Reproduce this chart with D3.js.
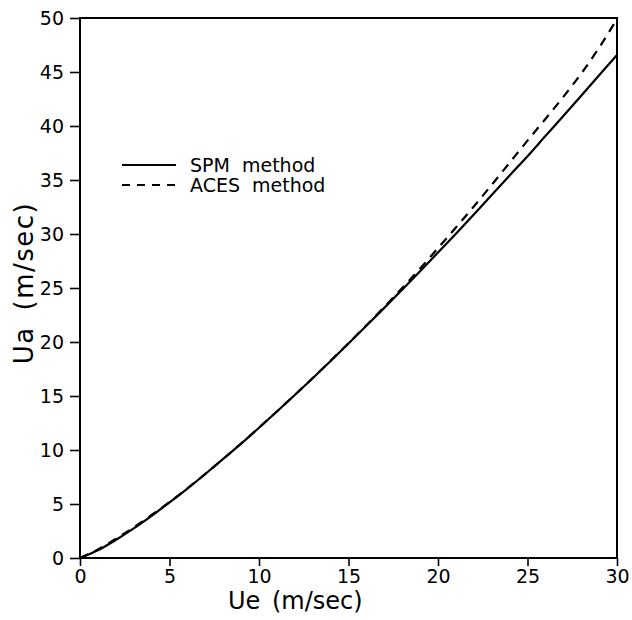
<!DOCTYPE html>
<html>
<head>
<meta charset="utf-8">
<script src="https://cdn.jsdelivr.net/npm/d3@7"></script>
<style>
  html, body { margin: 0; padding: 0; background: #fff; }
  svg { display: block; }
  text { font-family: "DejaVu Sans", sans-serif; fill: #000; }
</style>
</head>
<body>
<svg id="chart" width="632" height="620"></svg>
<script>
// Data
const ue = [0,1,2,3,4,5,6,7,8,9,10,11,12,13,14,15,16,17,18,19,20,21,22,23,24,25,26,27,28,29,30];
const spm = [0,0.71,1.67,2.74,3.91,5.14,6.43,7.78,9.17,10.59,12.06,13.56,15.09,16.65,18.24,19.86,21.50,23.16,24.85,26.55,28.29,30.03,31.81,33.60,35.41,37.20,39.07,40.92,42.80,44.69,46.58];
const aces = [0,0.80,1.78,2.84,3.98,5.18,6.45,7.79,9.18,10.60,12.07,13.57,15.10,16.66,18.26,19.89,21.55,23.25,25.00,26.80,28.70,30.60,32.55,34.55,36.60,38.65,40.65,42.70,44.85,47.25,49.90];
const xTicks = [0,5,10,15,20,25,30];
const yTicks = [0,5,10,15,20,25,30,35,40,45,50];
const legendLabels = ["SPM method", "ACES method"];

const svg = d3.select("#chart");
const mLeft = 80, mRight = 617, mTop = 18, mBottom = 558;

const x = d3.scaleLinear().domain([0, 30]).range([mLeft, mRight]);
const y = d3.scaleLinear().domain([0, 50]).range([mBottom, mTop]);

// X axis
const xAxis = svg.append("g").attr("transform", `translate(0,${mBottom})`)
  .call(d3.axisBottom(x).tickValues(xTicks).tickSize(8).tickPadding(4).tickFormat(d3.format("d")));
xAxis.select(".domain").remove();
xAxis.selectAll("line").attr("stroke", "#000").attr("stroke-width", 1.6);
xAxis.selectAll("text").attr("font-size", 19).attr("font-family", "DejaVu Sans, sans-serif");

// Y axis
const yAxis = svg.append("g").attr("transform", `translate(${mLeft},0)`)
  .call(d3.axisLeft(y).tickValues(yTicks).tickSize(10).tickPadding(6).tickFormat(d3.format("d")));
yAxis.select(".domain").remove();
yAxis.selectAll("line").attr("stroke", "#000").attr("stroke-width", 1.6);
yAxis.selectAll("text").attr("font-size", 19).attr("font-family", "DejaVu Sans, sans-serif");

// Frame
svg.append("rect").attr("x", mLeft).attr("y", mTop)
  .attr("width", mRight - mLeft).attr("height", mBottom - mTop)
  .attr("fill", "none").attr("stroke", "#000").attr("stroke-width", 2);

// Lines
const line = d3.line().x((d, i) => x(ue[i])).y(d => y(d)).curve(d3.curveMonotoneX);
svg.append("path").datum(spm).attr("d", line)
  .attr("fill", "none").attr("stroke", "#000").attr("stroke-width", 2.2);
svg.append("path").datum(aces).attr("d", line)
  .attr("fill", "none").attr("stroke", "#000").attr("stroke-width", 2.2)
  .attr("stroke-dasharray", "9,7");

// Legend
const lg = svg.append("g");
const rows = [{y: 165, dash: null}, {y: 185, dash: "8,7"}];
rows.forEach((r, i) => {
  lg.append("line").attr("x1", 122).attr("x2", 176).attr("y1", r.y).attr("y2", r.y)
    .attr("stroke", "#000").attr("stroke-width", 1.8)
    .attr("stroke-dasharray", r.dash);
  lg.append("text").attr("x", 190).attr("y", r.y + 7)
    .attr("font-size", 19).attr("word-spacing", 6)
    .text(legendLabels[i]);
});

// Axis titles
svg.append("text").attr("x", 228).attr("y", 609)
  .attr("font-size", 24).attr("word-spacing", 4)
  .text("Ue (m/sec)");
svg.append("text")
  .attr("transform", "translate(33,283) rotate(-90)")
  .attr("text-anchor", "middle")
  .attr("font-size", 26).attr("letter-spacing", 1.5).attr("word-spacing", 6)
  .text("Ua (m/sec)");
</script>
</body>
</html>
